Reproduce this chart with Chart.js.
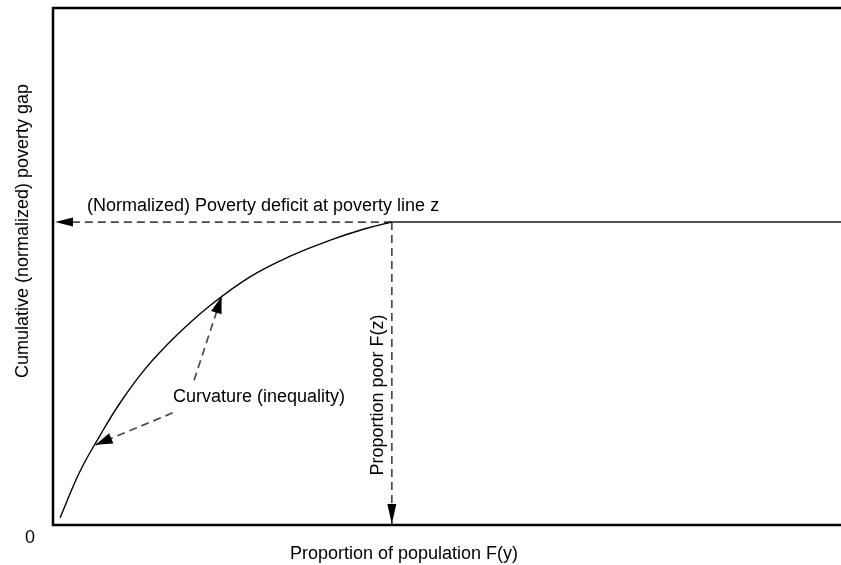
<!DOCTYPE html>
<html>
<head>
<meta charset="utf-8">
<script src="https://cdn.jsdelivr.net/npm/chart.js@4.4.1/dist/chart.umd.min.js"></script>
<style>
  html, body { margin: 0; padding: 0; background: #fff; }
  #wrap { width: 841px; height: 565px; position: relative; }
</style>
</head>
<body>
<div id="wrap"><canvas id="chart"></canvas></div>
<script>
//? DATA (proportion of population, cumulative normalized gap)
const curveX = [0.009, 0.034, 0.060, 0.085, 0.117, 0.155, 0.199, 0.250, 0.301, 0.352, 0.396, 0.430];
const curveY = [0.014, 0.103, 0.174, 0.236, 0.302, 0.364, 0.424, 0.480, 0.520, 0.551, 0.573, 0.586];
const flatX = [0.430, 1.0];
const flatY = [0.586, 0.586];

// curvature arrows: tail -> tip (tip sits on the curve)
const curvTailX = [0.179, 0.152];
const curvTailY = [0.280, 0.217];
const curvTipX = [0.214, 0.054];
const curvTipY = [0.442, 0.155];

const kinkX = curveX[curveX.length - 1];
const kinkY = curveY[curveY.length - 1];

const FONT = "'Liberation Sans', Arial, sans-serif";

const toPts = (xs, ys) => xs.map((x, i) => ({ x: x, y: ys[i] }));

const dashStyle = {
    borderColor: '#4a4a4a',
    borderWidth: 1.7,
    borderDash: [8, 5],
    pointRadius: 0,
    fill: false,
    tension: 0
};

const datasets = [
    {
        label: 'curve',
        data: toPts(curveX, curveY),
        borderColor: '#000',
        borderWidth: 1.4,
        pointRadius: 0,
        fill: false,
        tension: 0.4
    },
    {
        label: 'flat',
        data: toPts(flatX, flatY),
        borderColor: '#555',
        borderWidth: 2,
        pointRadius: 0,
        fill: false
    },
    { label: 'deficit', data: [{ x: kinkX, y: kinkY }, { x: 0, y: kinkY }], ...dashStyle },
    { label: 'poor', data: [{ x: kinkX, y: kinkY }, { x: kinkX, y: 0 }], ...dashStyle }
];
curvTailX.forEach((tx, i) => {
    datasets.push({
        label: 'curv' + i,
        data: [{ x: tx, y: curvTailY[i] }, { x: curvTipX[i], y: curvTipY[i] }],
        ...dashStyle
    });
});

function arrowHead(ctx, x0, y0, x1, y1, len, half) {
    const a = Math.atan2(y1 - y0, x1 - x0);
    ctx.beginPath();
    ctx.moveTo(x1, y1);
    ctx.lineTo(x1 - len * Math.cos(a) + half * Math.sin(a), y1 - len * Math.sin(a) - half * Math.cos(a));
    ctx.lineTo(x1 - len * Math.cos(a) - half * Math.sin(a), y1 - len * Math.sin(a) + half * Math.cos(a));
    ctx.closePath();
    ctx.fill();
}

//? frame, arrow heads and labels
const decor = {
    id: 'decor',
    afterDatasetsDraw(chart) {
        const { ctx, chartArea: ca, scales } = chart;
        const px = v => scales.x.getPixelForValue(v);
        const py = v => scales.y.getPixelForValue(v);
        ctx.save();

        // frame (no right side)
        ctx.strokeStyle = '#000';
        ctx.lineWidth = 2.5;
        ctx.beginPath();
        ctx.moveTo(chart.width, ca.top);
        ctx.lineTo(ca.left, ca.top);
        ctx.lineTo(ca.left, ca.bottom);
        ctx.lineTo(chart.width, ca.bottom);
        ctx.stroke();

        ctx.fillStyle = '#000';
        arrowHead(ctx, px(kinkX), py(kinkY), ca.left + 2, py(kinkY), 18, 4.5);
        arrowHead(ctx, px(kinkX), py(kinkY), px(kinkX), ca.bottom - 1, 20, 4.5);
        curvTailX.forEach((tx, i) => {
            arrowHead(ctx, px(tx), py(curvTailY[i]), px(curvTipX[i]), py(curvTipY[i]), 17, 5.5);
        });

        ctx.font = '18px ' + FONT;
        ctx.fillStyle = '#000';
        ctx.textBaseline = 'alphabetic';
        ctx.textAlign = 'left';
        ctx.fillText('(Normalized) Poverty deficit at poverty line z', 87, 211);
        ctx.fillText('Curvature (inequality)', 173, 402);

        ctx.textAlign = 'center';
        ctx.fillText('0', 30, 543);
        ctx.fillText('Proportion of population F(y)', 404, 559);

        ctx.save();
        ctx.translate(383, 395);
        ctx.rotate(-Math.PI / 2);
        ctx.fillText('Proportion poor F(z)', 0, 0);
        ctx.restore();

        ctx.save();
        ctx.translate(28, 231);
        ctx.rotate(-Math.PI / 2);
        ctx.fillText('Cumulative (normalized) poverty gap', 0, 0);
        ctx.restore();

        ctx.restore();
    }
};

new Chart(document.getElementById('chart'), {
    type: 'line',
    data: { datasets: datasets },
    options: {
        responsive: true,
        maintainAspectRatio: false,
        animation: false,
        layout: { padding: { left: 53, top: 8, right: 0, bottom: 40 } },
        scales: {
            x: { type: 'linear', min: 0, max: 1, display: false },
            y: { type: 'linear', min: 0, max: 1, display: false }
        },
        plugins: {
            legend: { display: false },
            tooltip: { enabled: false }
        }
    },
    plugins: [decor]
});
</script>
</body>
</html>
